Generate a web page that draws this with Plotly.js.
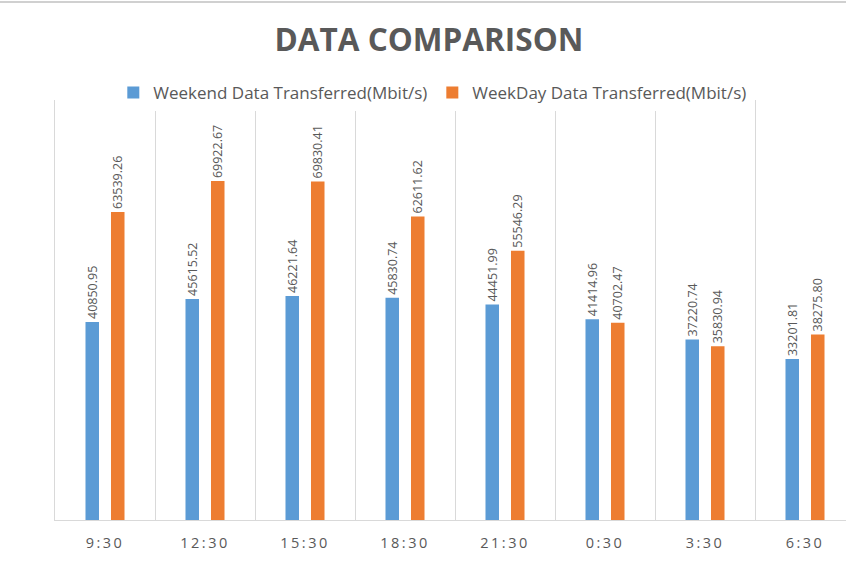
<!DOCTYPE html>
<html>
<head>
<meta charset="utf-8">
<script src="https://cdn.plot.ly/plotly-3.0.1.min.js"></script>
<style>html,body{margin:0;padding:0;background:#fff;}#chart{width:846px;height:568px;}
.xtick text{letter-spacing:2.5px;}
</style>
</head>
<body>
<div id="chart"></div>
<script>
const categories = ["9:30","12:30","15:30","18:30","21:30","0:30","3:30","6:30"];
const weekendValues = [40850.95,45615.52,46221.64,45830.74,44451.99,41414.96,37220.74,33201.81];
const weekdayValues = [63539.26,69922.67,69830.41,62611.62,55546.29,40702.47,35830.94,38275.80];
const seriesNames = ["Weekend Data Transferred(Mbit/s)","WeekDay Data Transferred(Mbit/s)"];

const textFont = {family:"Open Sans, sans-serif", size:12.5, color:"#595959"};
function mk(name, vals, color){
  return {
    type:"bar", name:name, x:categories, y:vals,
    marker:{color:color},
    text: vals.map(v=>v.toFixed(2)),
    textposition:"outside", textangle:-90, constraintext:"none", cliponaxis:false,
    textfont:textFont, hoverinfo:"skip"
  };
}
const data = [mk(seriesNames[0], weekendValues, "#5b9bd5"), mk(seriesNames[1], weekdayValues, "#ed7d31")];

const layout = {
  width:846, height:568,
  margin:{l:55, r:0, t:100, b:48, pad:0},
  paper_bgcolor:"#fff", plot_bgcolor:"#fff",
  barmode:"group", bargap:0.49, bargroupgap:0.47,
  title:{text:"<b>DATA COMPARISON</b>", x:0.507, xref:"container", y:0.93, yref:"container", yanchor:"middle",
         font:{family:"Open Sans, sans-serif", size:31.5, color:"#595959"}},
  showlegend:true,
  legend:{orientation:"h", x:0.477, xanchor:"center", y:1.017, yanchor:"middle", itemwidth:30,
          font:{family:"Open Sans, sans-serif", size:17, color:"#595959"}, itemclick:false, traceorder:"normal"},
  xaxis:{type:"category", range:[-0.5, 7.41], tickson:"boundaries", showgrid:true, gridcolor:"#d9d9d9", gridwidth:1,
         showline:true, linecolor:"#d9d9d9", ticks:"", ticklen:0, ticklabelstandoff:10,
         tickfont:{family:"Open Sans, sans-serif", size:14.5, color:"#595959"}, fixedrange:true},
  yaxis:{range:[0, 86650], showgrid:false, zeroline:false, showticklabels:false, showline:true, linecolor:"#d9d9d9", ticks:"", fixedrange:true},
  shapes:[{type:"line", xref:"paper", yref:"paper", x0:-55/791, x1:1, y0:518/420, y1:518/420, line:{color:"#d0d0d0", width:2}}]
};
Plotly.newPlot("chart", data, layout, {displayModeBar:false, staticPlot:true});
</script>
</body>
</html>
